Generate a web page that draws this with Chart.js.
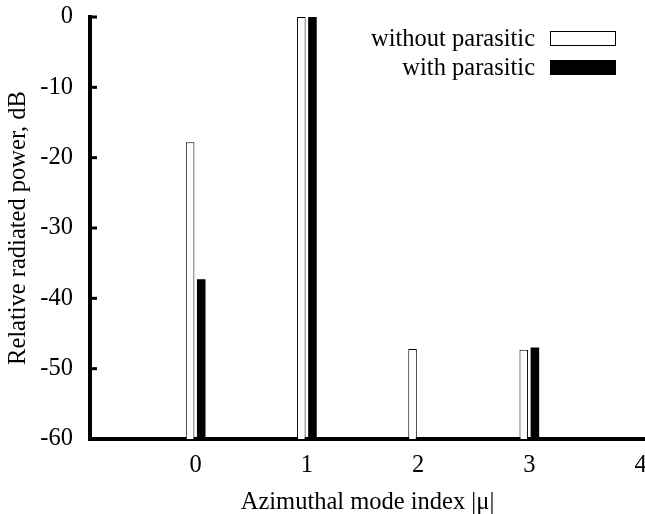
<!DOCTYPE html>
<html>
<head>
<meta charset="utf-8">
<script src="https://cdn.jsdelivr.net/npm/chart.js@4"></script>
<style>
  body { margin: 0; background: #fff; }
  #wrap { width: 645px; height: 514px; }
</style>
</head>
<body>
<div id="wrap"><canvas id="chart"></canvas></div>
<script>
// Data
const modes = [0, 1, 2, 3];
const withoutParasitic = [-17.8, 0, -47.2, -47.3];
const withParasitic = [-37.3, 0, null, -47.0];
const xTicks = [0, 1, 2, 3, 4];
const yTicks = [-60, -50, -40, -30, -20, -10, 0];
const seriesNames = ['without parasitic', 'with parasitic'];

const FONT = 'Liberation Serif, Times New Roman, serif';
const FSIZE = 24.5;

function toPoints(values) {
  return modes.map((m, i) => ({ x: m, y: values[i] }));
}

// y tick marks drawn inside the plot, like the original
const innerTicks = {
  id: 'innerTicks',
  afterDraw(chart) {
    const ctx = chart.ctx;
    const y = chart.scales.y;
    const left = chart.chartArea.left;
    ctx.save();
    ctx.strokeStyle = '#000';
    ctx.lineWidth = 3;
    yTicks.forEach(v => {
      const py = y.getPixelForValue(v);
      ctx.beginPath();
      ctx.moveTo(left, py);
      ctx.lineTo(left + 7, py);
      ctx.stroke();
    });
    ctx.restore();
  }
};

// legend in the upper right: text then box
const boxLegend = {
  id: 'boxLegend',
  afterDraw(chart) {
    const ctx = chart.ctx;
    const area = chart.chartArea;
    const boxR = area.right - 29;
    const boxW = 66, boxH = 15;
    ctx.save();
    ctx.font = FSIZE + 'px ' + FONT;
    ctx.textAlign = 'right';
    ctx.textBaseline = 'middle';
    chart.data.datasets.forEach((ds, i) => {
      const top = area.top + 14 + i * 29;
      ctx.fillStyle = '#000';
      ctx.fillText(ds.label, boxR - boxW - 15, top + boxH / 2 + 1);
      ctx.fillStyle = ds.backgroundColor;
      ctx.fillRect(boxR - boxW, top, boxW, boxH);
      ctx.strokeStyle = '#000';
      ctx.lineWidth = 1;
      ctx.strokeRect(boxR - boxW + 0.5, top + 0.5, boxW - 1, boxH - 1);
    });
    ctx.restore();
  }
};

new Chart(document.getElementById('chart'), {
  type: 'bar',
  data: {
    datasets: [
      {
        label: seriesNames[0],
        data: toPoints(withoutParasitic),
        backgroundColor: '#ffffff',
        borderColor: '#000000',
        borderWidth: 1,
        base: -60,
        categoryPercentage: 0.2,
        barPercentage: 0.77
      },
      {
        label: seriesNames[1],
        data: toPoints(withParasitic),
        backgroundColor: '#000000',
        borderColor: '#000000',
        borderWidth: 0,
        base: -60,
        categoryPercentage: 0.2,
        barPercentage: 0.77
      }
    ]
  },
  options: {
    responsive: true,
    maintainAspectRatio: false,
    animation: false,
    layout: { padding: { top: 17, right: 0, left: 0, bottom: 0 } },
    plugins: {
      legend: { display: false },
      tooltip: { enabled: false }
    },
    scales: {
      x: {
        type: 'linear',
        offset: false,
        min: -0.95,
        max: 4.04,
        afterBuildTicks: s => { s.ticks = xTicks.map(v => ({ value: v })); },
        afterFit: s => { s.height = 75; s.paddingLeft = 0; s.paddingRight = 0; },
        grid: { display: false, drawTicks: false, offset: false },
        border: { display: true, color: '#000', width: 4 },
        ticks: { color: '#000', font: { family: FONT, size: FSIZE }, padding: 12, maxRotation: 0 },
        title: {
          display: true,
          text: 'Azimuthal mode index |μ|',
          color: '#000',
          font: { family: FONT, size: FSIZE, lineHeight: 0.9 },
          padding: { top: 4, bottom: 0 }
        }
      },
      y: {
        min: -60,
        max: 0,
        afterBuildTicks: s => { s.ticks = yTicks.map(v => ({ value: v })); },
        afterFit: s => { s.width = 90; s.paddingTop = 0; s.paddingBottom = 0; },
        grid: { display: false, drawTicks: false },
        border: { display: true, color: '#000', width: 4 },
        ticks: { color: '#000', font: { family: FONT, size: FSIZE }, padding: 17 },
        title: {
          display: true,
          text: 'Relative radiated power, dB',
          color: '#000',
          font: { family: FONT, size: FSIZE }
        }
      }
    }
  },
  plugins: [innerTicks, boxLegend]
});
</script>
</body>
</html>
